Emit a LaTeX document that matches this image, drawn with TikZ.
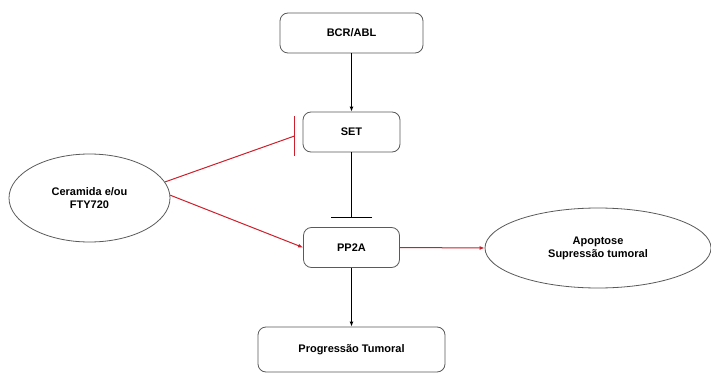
\documentclass[tikz,border=0pt]{standalone}
\usepackage{fontspec}
\setmainfont{Liberation Sans}
\usetikzlibrary{arrows.meta,shapes.geometric}
\definecolor{inhibred}{RGB}{205,32,44}
\definecolor{boxgray}{RGB}{90,90,90}
\begin{document}
\begin{tikzpicture}[x=1pt,y=-1pt,
  every node/.style={font=\fontsize{11}{13}\selectfont\bfseries, align=center},
  stepbox/.style={draw=boxgray, line width=0.8pt, rounded corners=8pt, rectangle, inner sep=0pt},
  oval/.style={draw=boxgray, line width=0.8pt, ellipse, inner sep=0pt},
  act/.style={line width=1pt, -{Latex[length=5pt,width=4pt]}},
  redact/.style={act, draw=inhibred, -{Latex[length=5pt,width=4pt]}},
  blockk/.style={line width=1pt, -{Bar[width=41pt,line width=1pt]}},
  redline/.style={line width=1pt, draw=inhibred}]
\useasboundingbox (0,0) rectangle (711,374);
\fill[white] (0,0) rectangle (711,374);

% nodes
\node[stepbox, minimum width=143pt, minimum height=40pt] (bcr) at (351.5,33) {BCR/ABL};
\node[stepbox, minimum width=97pt, minimum height=40pt] (set) at (351.5,132) {SET};
\node[stepbox, minimum width=96pt, minimum height=40pt] (pp2a) at (351.5,247.5) {PP2A};
\node[stepbox, minimum width=187pt, minimum height=45pt] (prog) at (351.5,349.5) {Progressão Tumoral};
\node[oval, minimum width=161pt, minimum height=88pt] (cer) at (89.5,198) {Ceramida e/ou\\FTY720};
\node[oval, minimum width=226pt, minimum height=80pt] (apo) at (598,248) {Apoptose\\Supressão tumoral};

% end points of the inhibition bars
\coordinate (setbar) at (351.5,218);
\coordinate (cerbar) at (294.5,136);

% connectors
\draw[act] (bcr.south) -- (set.north);
\draw[blockk] (set.south) -- (setbar);
\draw[act] (pp2a.south) -- (prog.north);
\draw[redline] (cer.12) -- (cerbar);
\draw[redline] ([yshift=-20pt]cerbar) -- ([yshift=20pt]cerbar);
\draw[redact] (cer.2) -- (pp2a.west);
\draw[redact] (pp2a.east) -- (apo.west);
\end{tikzpicture}
\end{document}
